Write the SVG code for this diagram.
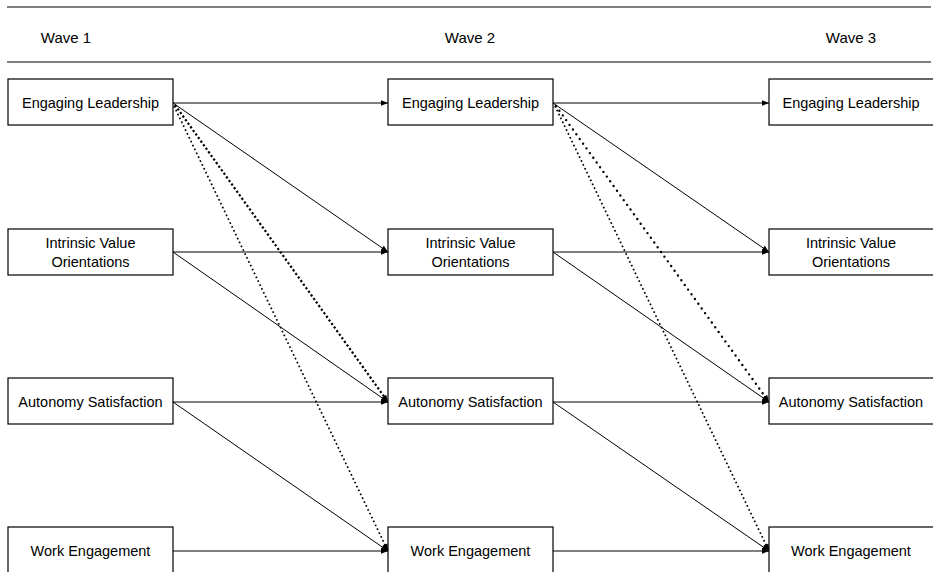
<svg xmlns="http://www.w3.org/2000/svg" width="933" height="572" viewBox="0 0 933 572">
  <style>
    .rule { stroke: #000; stroke-width: 1.2; }
    .box { fill: #fff; stroke: #000; stroke-width: 1.2; }
    .lbl { font-family: "Liberation Sans", Arial, sans-serif; font-size: 14.5px; fill: #000; text-anchor: middle; }
    .wave { font-family: "Liberation Sans", Arial, sans-serif; font-size: 15px; fill: #000; text-anchor: middle; }
    .path { fill: none; stroke: #000; stroke-width: 1; marker-end: url(#arrow); }
    .dash { fill: none; stroke: #000; stroke-width: 2.2; stroke-dasharray: 2.2 2.2; marker-end: url(#arrow); }
    .dots { fill: none; stroke: #000; stroke-width: 2.4; stroke-linecap: round; stroke-dasharray: 0 5.8; marker-end: url(#arrow); }
    .fine { fill: none; stroke: #000; stroke-width: 1.7; stroke-dasharray: 1.7 2.6; marker-end: url(#arrow); }
  </style>
  <defs>
    <marker id="arrow" viewBox="0 0 10 10" refX="10" refY="5" markerWidth="8" markerHeight="7" markerUnits="userSpaceOnUse" orient="auto">
      <path d="M0,1 L10,5 L0,9 Z" fill="#000"/>
    </marker>
  </defs>

  <!-- header rules and wave labels -->
  <g id="header">
    <line class="rule" x1="7" y1="7" x2="931" y2="7"/>
    <line class="rule" x1="7" y1="62" x2="931" y2="62"/>
    <text class="wave" x="66" y="43">Wave 1</text>
    <text class="wave" x="470" y="43">Wave 2</text>
    <text class="wave" x="851" y="43">Wave 3</text>
  </g>

  <!-- connectors -->
  <g id="connectors">
    <!-- wave 1 to wave 2 -->
    <line class="path" x1="173" y1="103" x2="388" y2="103"/>
    <line class="path" x1="173" y1="103" x2="388" y2="252"/>
    <line class="path" x1="173" y1="252" x2="388" y2="252"/>
    <line class="path" x1="173" y1="252" x2="388" y2="402"/>
    <line class="path" x1="173" y1="402" x2="388" y2="402"/>
    <line class="path" x1="173" y1="402" x2="388" y2="551"/>
    <line class="path" x1="173" y1="551" x2="388" y2="551"/>
    <line class="dash" x1="175" y1="105" x2="388" y2="402"/>
    <line class="fine" x1="174" y1="106" x2="388" y2="551"/>
    <!-- wave 2 to wave 3 -->
    <line class="path" x1="553" y1="103" x2="769" y2="103"/>
    <line class="path" x1="553" y1="103" x2="769" y2="252"/>
    <line class="path" x1="553" y1="252" x2="769" y2="252"/>
    <line class="path" x1="553" y1="252" x2="769" y2="402"/>
    <line class="path" x1="553" y1="402" x2="769" y2="402"/>
    <line class="path" x1="553" y1="402" x2="769" y2="551"/>
    <line class="path" x1="553" y1="551" x2="769" y2="551"/>
    <line class="dots" x1="556" y1="106" x2="769" y2="402"/>
    <line class="fine" x1="555" y1="106" x2="769" y2="551"/>
  </g>

  <!-- wave 1 nodes -->
  <g id="el1"><rect class="box" x="8" y="79" width="165" height="46"/><text class="lbl" x="90.5" y="107.5">Engaging Leadership</text></g>
  <g id="ivo1"><rect class="box" x="8" y="229" width="165" height="46"/><text class="lbl" x="90.5" y="248">Intrinsic Value</text><text class="lbl" x="90.5" y="267">Orientations</text></g>
  <g id="as1"><rect class="box" x="8" y="378" width="165" height="46"/><text class="lbl" x="90.5" y="406.5">Autonomy Satisfaction</text></g>
  <g id="we1"><rect class="box" x="8" y="527" width="165" height="60"/><text class="lbl" x="90.5" y="555.5">Work Engagement</text></g>

  <!-- wave 2 nodes -->
  <g id="el2"><rect class="box" x="388" y="79" width="165" height="46"/><text class="lbl" x="470.5" y="107.5">Engaging Leadership</text></g>
  <g id="ivo2"><rect class="box" x="388" y="229" width="165" height="46"/><text class="lbl" x="470.5" y="248">Intrinsic Value</text><text class="lbl" x="470.5" y="267">Orientations</text></g>
  <g id="as2"><rect class="box" x="388" y="378" width="165" height="46"/><text class="lbl" x="470.5" y="406.5">Autonomy Satisfaction</text></g>
  <g id="we2"><rect class="box" x="388" y="527" width="165" height="60"/><text class="lbl" x="470.5" y="555.5">Work Engagement</text></g>

  <!-- wave 3 nodes -->
  <g id="el3"><rect class="box" x="769" y="79" width="165" height="46"/><text class="lbl" x="851" y="107.5">Engaging Leadership</text></g>
  <g id="ivo3"><rect class="box" x="769" y="229" width="165" height="46"/><text class="lbl" x="851" y="248">Intrinsic Value</text><text class="lbl" x="851" y="267">Orientations</text></g>
  <g id="as3"><rect class="box" x="769" y="378" width="165" height="46"/><text class="lbl" x="851" y="406.5">Autonomy Satisfaction</text></g>
  <g id="we3"><rect class="box" x="769" y="527" width="165" height="60"/><text class="lbl" x="851" y="555.5">Work Engagement</text></g>
</svg>
